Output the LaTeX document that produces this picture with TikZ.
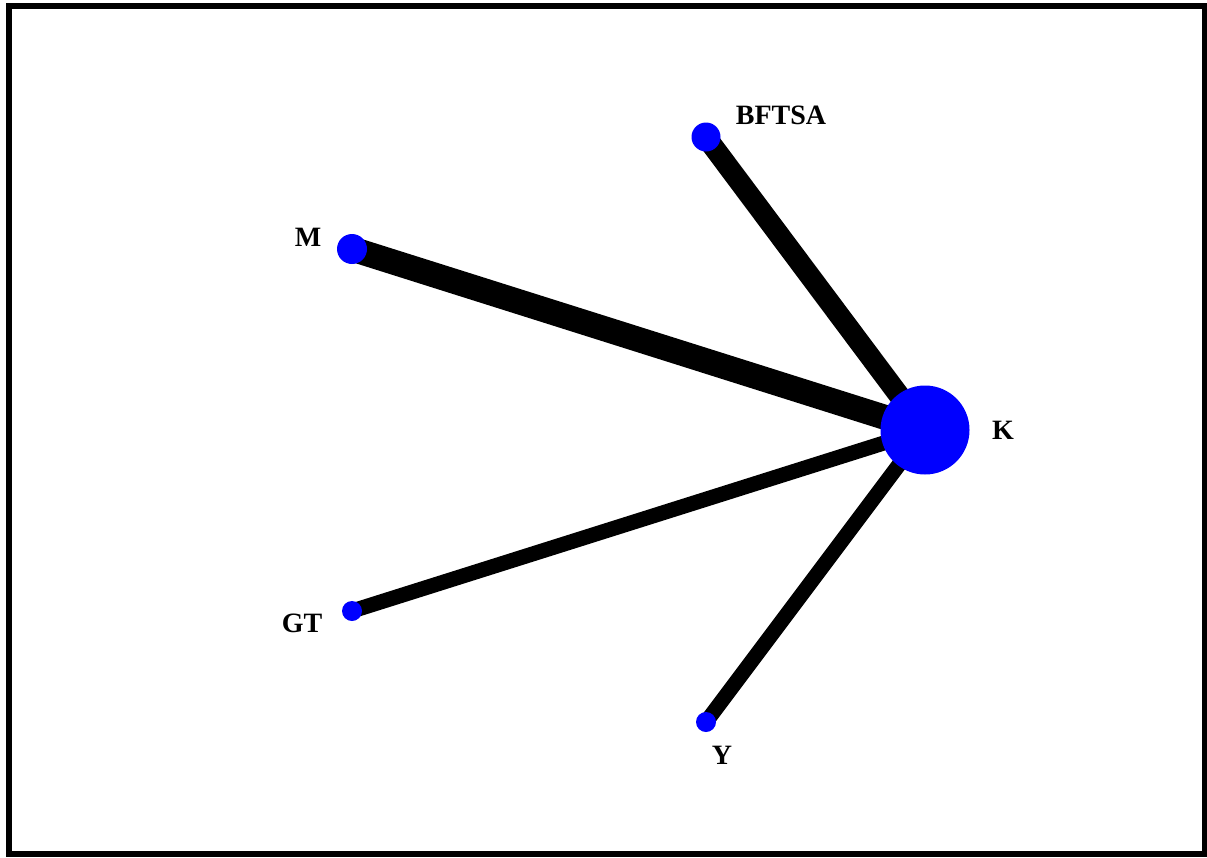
\documentclass[tikz,border=0pt]{standalone}
\usepackage{fontspec}
\setmainfont{Liberation Serif}
\usetikzlibrary{positioning,calc,backgrounds}

\begin{document}
\begin{tikzpicture}[x=1pt, y=-1pt,
                    node/.style={circle, fill=blue, inner sep=0pt},
                    lbl/.style={font=\fontsize{28}{28}\selectfont\bfseries, inner sep=0pt},
                    link/.style={draw=black, line cap=butt}]
    \useasboundingbox (0,0) rectangle (1207,857);
    % Frame
    \draw[line width=6pt] (9,6) rectangle (1205,854);

    % Treatments (node size ~ number of studies)
    \node[node, minimum size=89pt] (K) at (925,430) {};
    \node[node, minimum size=29pt] (BFTSA) at (706,137) {};
    \node[node, minimum size=30pt] (M) at (352,249) {};
    \node[node, minimum size=20pt] (GT) at (352,611) {};
    \node[node, minimum size=20pt] (Y) at (706,722) {};

    % Labels
    \node[lbl] (lK) at (1003,430) {K};
    \node[lbl] (lBFTSA) at (781,115) {BFTSA};
    \node[lbl] (lM) at (308,237) {M};
    \node[lbl] (lGT) at (302,623) {GT};
    \node[lbl] (lY) at (722,755) {Y};

    % Comparisons (edge width ~ number of trials)
    \begin{scope}[on background layer]
        \draw[link, line width=25pt] (K.center) -- (M.center);
        \draw[link, line width=21pt] (K.center) -- (BFTSA.center);
        \draw[link, line width=15pt] (K.center) -- (GT.center);
        \draw[link, line width=15pt] (K.center) -- (Y.center);
    \end{scope}
\end{tikzpicture}
\end{document}
